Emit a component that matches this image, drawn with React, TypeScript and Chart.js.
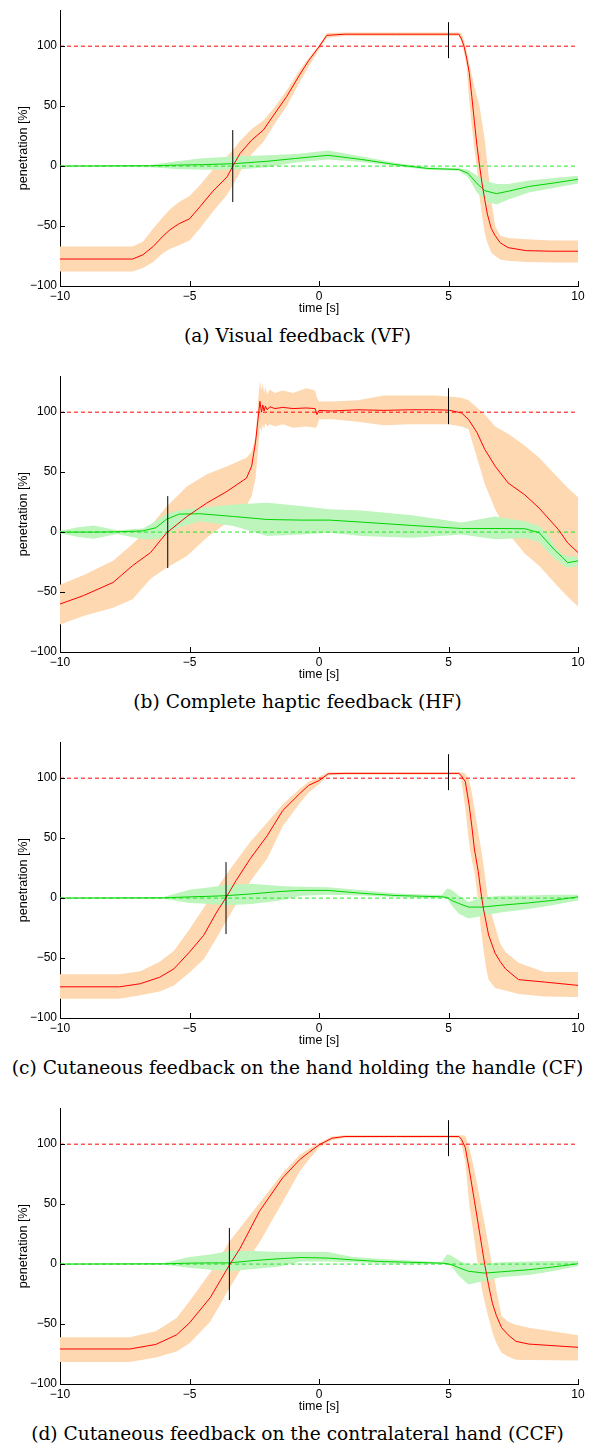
import React, { useEffect, useRef } from 'react';
import { Chart, registerables } from 'chart.js';

Chart.register(...registerables);

// ---------- axes ----------
const X_TICKS = [-10, -5, 0, 5, 10];
const Y_TICKS = [-100, -50, 0, 50, 100];
const X_MIN = -10;
const X_MAX = 10;
const Y_MIN = -100;
const Y_MAX = 130;
const TARGET_RED = 100;
const TARGET_GREEN = 0;
const X_TITLE = 'time [s]';
const Y_TITLE = 'penetration [%]';

const CAPTIONS = [
  '(a) Visual feedback (VF)',
  '(b) Complete haptic feedback (HF)',
  '(c) Cutaneous feedback on the hand holding the handle (CF)',
  '(d) Cutaneous feedback on the contralateral hand (CCF)',
];

// marker lines: crossing time per panel, and the second marker at t = 5
const CROSS_T = [-3.33, -5.84, -3.59, -3.46];
const CROSS_LO = -30;
const CROSS_HI = 30;
const END_T = 5;
const END_LO = 90;
const END_HI = 120;

// ---------- panel (a) VF ----------
const aRedT = [-10, -7.2, -6.8, -6.4, -6.05, -5.75, -5.4, -5, -4.6, -4.1, -3.55, -3.3, -3.05, -2.6, -2.15, -1.75, -1.25, -0.75, -0.4, 0, 0.3, 1, 3, 5, 5.4, 5.5, 5.6, 5.7, 5.8, 5.9, 6.0, 6.1, 6.2, 6.3, 6.4, 6.5, 6.65, 6.8, 7.0, 7.3, 8.0, 9.0, 10];
const aRedMean = [-77.5, -77.5, -74, -67, -59, -53, -48, -44, -34, -21, -9, 1, 10.5, 21.7, 30, 42.5, 58, 76, 88, 99.5, 109, 110, 110, 110, 110, 106, 100, 90, 78, 58, 37, 17, 0, -15, -28, -40, -52, -58, -64, -68, -70.5, -71, -71];
const aRedUp = [-67, -67, -63, -52, -43, -36, -30, -25, -16, -3, 8, 14, 21, 31, 38, 48, 63, 80, 90, 101, 111, 111.5, 111.5, 111.5, 111.5, 111, 105, 96, 86, 76, 66, 58, 50, 36, 22, 2, -28, -50, -58, -60, -61, -62, -62];
const aRedLo = [-88, -88, -85, -80, -73, -69, -66, -62, -52, -38, -24, -15, -5, 10, 20, 34, 50, 70, 83, 97, 107, 108.5, 108.5, 108.5, 108.5, 104, 95, 83, 55, 33, 14, -2, -26, -42, -56, -64, -72, -75, -78, -79, -80, -80.5, -80.5];
const aGreenT = [-10, -6.5, -5.5, -4.5, -3.3, -2, -0.9, 0.35, 1.65, 2.9, 4.2, 5.4, 5.75, 6.1, 6.4, 6.85, 7.3, 8.1, 9.1, 10];
const aGreenMean = [0, 0.3, 0.8, 1.2, 2, 4, 6.4, 9, 5.5, 1.4, -2, -2.8, -6, -14.5, -20.5, -23, -21, -17, -14, -11];
const aGreenUp = [0.2, 1, 4, 6.5, 8, 9, 10, 13, 8, 3, -1, -1.8, -3, -8, -12, -15, -15, -12, -10, -8];
const aGreenLo = [-0.2, -1, -2.5, -3, -3, -1, 3, 5.5, 3.5, 0, -3, -3.8, -9, -22, -29, -32, -28, -22, -18, -14.5];

// ---------- panel (b) HF ----------
const bRedT = [-10, -9.1, -7.95, -7.2, -6.5, -5.9, -5.1, -4.35, -3.55, -2.8, -2.6, -2.45, -2.35, -2.28, -2.22, -2.17, -2.12, -2.07, -2.0, -1.9, -1.7, -1.4, -1.0, -0.5, -0.15, -0.08, 0, 0.5, 1.5, 2.5, 3.5, 4.5, 5, 5.5, 5.77, 6.1, 6.4, 6.8, 7.3, 7.95, 8.5, 9.25, 9.6, 10];
const bRedMean = [-60, -53, -42, -28, -17, -1, 13, 24, 34, 45, 55, 75, 95, 109, 100, 106, 101, 105, 102, 104.5, 103, 104, 103, 103.5, 103, 98, 101.5, 101, 102, 101.5, 102, 102, 101.7, 99.4, 94, 83, 69, 55, 41, 31, 20, 2, -9, -17];
const bRedUp = [-44, -36, -24, -10, 5, 21, 38, 48, 55, 62, 67, 80, 110, 126, 118, 124, 116, 121, 115, 119, 116, 118, 116, 120, 118, 112, 109, 109, 110, 114, 114, 114, 113, 112, 110, 104, 98, 88, 82, 72, 62, 45, 37, 29];
const bRedLo = [-77, -70, -63, -56, -39, -30, -20, -5, 8, 22, 30, 45, 70, 88, 84, 90, 86, 91, 88, 90, 88, 90, 87, 88, 87, 88, 94, 94, 92, 89, 90, 90, 90, 88, 86, 62, 40, 19, -1, -18, -28, -46, -54, -62];
const bGreenT = [-10, -9.3, -8.7, -7.8, -6.8, -6.3, -5.9, -5.4, -4.6, -3.3, -2.0, -0.7, 0.4, 1.65, 3.6, 5.5, 6.8, 7.95, 8.5, 8.85, 9.1, 9.4, 9.6, 10];
const bGreenMean = [0, 0, 0, 0.2, 1, 3.6, 10.5, 15, 15.3, 13, 10.5, 10, 10, 8.3, 5.5, 3, 3, 2.8, -0.5, -9, -15, -21, -25.5, -24];
const bGreenUp = [1, 4, 5.5, 1.5, 3, 9, 15, 18, 20, 23, 24.4, 21.7, 19, 18, 14, 8, 13, 9, 5, -2, -12, -19, -20, -21];
const bGreenLo = [-1, -4, -5.5, -1.5, -6, -6, -2, 4, 9, 5, -3.3, -2, -0.5, -3.3, -4.7, -2, -6, -5, -8, -17, -22, -27, -30, -28];

// ---------- panel (c) CF ----------
const cRedT = [-10, -7.7, -6.9, -6.15, -5.6, -5.0, -4.45, -3.95, -3.6, -3.2, -2.65, -2.0, -1.4, -0.75, -0.4, 0, 0.35, 1, 3, 5, 5.4, 5.5, 5.65, 5.8, 5.9, 6.0, 6.15, 6.25, 6.35, 6.45, 6.55, 6.8, 7.0, 7.2, 7.7, 8.7, 10];
const cRedMean = [-74, -74, -71.4, -66, -59, -45, -31, -11.7, 0, 14.7, 33, 52, 73, 87, 94, 98, 103.6, 104, 104, 104, 104, 102, 97, 77, 60, 41, 22, 5, -9, -20, -31, -46, -53, -59, -68, -70, -72.8];
const cRedUp = [-63.6, -63.6, -61, -53, -44, -26, -8, 8, 19, 31, 47, 63, 78, 91, 97, 101, 105, 105, 105, 105, 105, 105, 104, 98, 88, 75, 55, 42, 28, 12, -5, -24, -38, -45, -54, -61.7, -61.7];
const cRedLo = [-84, -84, -81, -78, -73, -62, -51, -33, -20, -5, 14, 33, 60, 79, 88, 95, 102.5, 103, 103, 103, 103, 98, 75, 45, 32, 22, -3, -25, -43, -58, -68, -75, -76, -77, -80, -82, -82.5];
const cGreenT = [-10, -6.0, -5.0, -4.2, -3.6, -2.6, -1.5, -0.7, 0.35, 1.65, 2.9, 4.0, 4.74, 4.95, 5.12, 5.4, 5.77, 6.3, 7.0, 8.1, 9.0, 10];
const cGreenMean = [0, 0.2, 1, 1.5, 2, 3.5, 5.5, 6.4, 6.4, 4, 2.2, 1.5, 1.1, 0.5, -2, -4.5, -7.5, -7.5, -6, -4, -2, 1];
const cGreenUp = [0.2, 1, 7, 9, 11, 12, 10, 9.5, 9, 6.5, 4, 3, 2.5, 8, 7, 2, -3.3, 0.5, 2, 2.2, 2.8, 2.8];
const cGreenLo = [-0.2, -0.5, -4, -5, -6, -5, -2, 2, 2.8, 2.2, 1, 0, 0, -0.5, -6, -13, -17, -15, -12, -9, -6, -2];

// ---------- panel (d) CCF ----------
const dRedT = [-10, -7.3, -6.3, -5.5, -5.0, -4.2, -3.45, -3.05, -2.3, -1.4, -0.75, -0.4, 0, 0.5, 1, 3, 5, 5.4, 5.5, 5.65, 5.8, 5.9, 6.0, 6.15, 6.3, 6.4, 6.55, 6.7, 6.85, 7.05, 7.3, 7.6, 8.1, 10];
const dRedMean = [-70.8, -70.8, -67, -59, -49, -28, -0.5, 13, 44, 72, 87, 93, 99.4, 105, 106.4, 106.4, 106.4, 106.4, 104, 97, 79, 66, 53, 33, 13, -0.5, -18, -33, -43, -53, -59, -64.4, -66.7, -69.4];
const dRedUp = [-61, -61, -56, -45, -31, -7, 19, 30, 51, 76, 91, 96, 101, 106.5, 107.5, 107.5, 107.5, 107.5, 107.5, 107, 97, 88, 78, 62, 44, 33, 15, -3, -22, -43, -48, -50.5, -53, -59.4];
const dRedLo = [-81.7, -81.7, -78, -73, -66, -48, -20, -5.5, 18, 52, 77, 87, 97, 103.5, 105.3, 105.3, 105.3, 105, 100, 85, 50, 35, 20, -3, -22, -32, -45, -57, -66, -74, -77, -79.7, -80, -80.3];
const dGreenT = [-10, -6.0, -5.0, -4.2, -3.45, -2.5, -1.5, -0.7, 0.35, 1.3, 2.3, 3.5, 4.74, 4.95, 5.12, 5.4, 5.77, 6.4, 7.0, 8.1, 9.0, 10];
const dGreenMean = [0, 0.2, 0.8, 1, 1, 3, 4.5, 5.5, 5, 3.5, 2.2, 1.5, 0.8, 0.3, -0.5, -3, -6, -7.5, -6.5, -4.7, -2.5, 0.3];
const dGreenUp = [0.2, 1, 6, 8, 11, 11, 10, 10, 10, 6, 4.5, 3, 1.5, 8.3, 7, 3, -0.5, 0, 1.5, 2.2, 2.5, 2.5];
const dGreenLo = [-0.2, -0.5, -3, -4.7, -6, -4, -2, 2.2, 2.2, 1.5, 0.8, 0, 0, -0.5, -2, -10, -17, -14, -11, -9, -6, -1.5];

// ---------- styles ----------
const RED = '#ff0000';
const GREEN = '#00d400';
const GREEN_DASH = '#22e622';
const ORANGE_BAND = '#fdd8b0';
const GREEN_BAND = '#bdf5bd';
const PANEL_H = 366;
const CANVAS_W = 595;
const CANVAS_H = 316;

type PanelData = {
  redT: number[]; redMean: number[]; redUp: number[]; redLo: number[];
  greenT: number[]; greenMean: number[]; greenUp: number[]; greenLo: number[];
  cross: number;
};

const PANELS: PanelData[] = [
  { redT: aRedT, redMean: aRedMean, redUp: aRedUp, redLo: aRedLo, greenT: aGreenT, greenMean: aGreenMean, greenUp: aGreenUp, greenLo: aGreenLo, cross: CROSS_T[0] },
  { redT: bRedT, redMean: bRedMean, redUp: bRedUp, redLo: bRedLo, greenT: bGreenT, greenMean: bGreenMean, greenUp: bGreenUp, greenLo: bGreenLo, cross: CROSS_T[1] },
  { redT: cRedT, redMean: cRedMean, redUp: cRedUp, redLo: cRedLo, greenT: cGreenT, greenMean: cGreenMean, greenUp: cGreenUp, greenLo: cGreenLo, cross: CROSS_T[2] },
  { redT: dRedT, redMean: dRedMean, redUp: dRedUp, redLo: dRedLo, greenT: dGreenT, greenMean: dGreenMean, greenUp: dGreenUp, greenLo: dGreenLo, cross: CROSS_T[3] },
];

const pts = (t: number[], v: number[]) => t.map((x, i) => ({ x, y: v[i] }));
const band = (t: number[], up: number[], lo: number[]) => [
  ...pts(t, up),
  ...pts(t, lo).reverse(),
];

const fmt = (v: number | string) => {
  const n = Number(v);
  return n < 0 ? '\u2212' + String(Math.abs(n)) : String(n);
};

const innerTicks = {
  id: 'innerTicks',
  afterDraw(chart: any) {
    const { ctx, chartArea, scales } = chart;
    const { left, bottom } = chartArea;
    ctx.save();
    ctx.strokeStyle = '#000';
    ctx.lineWidth = 1;
    ctx.beginPath();
    X_TICKS.forEach((v) => {
      const px = Math.round(scales.x.getPixelForValue(v)) + 0.5;
      ctx.moveTo(px, bottom);
      ctx.lineTo(px, bottom - 5);
    });
    Y_TICKS.forEach((v) => {
      const py = Math.round(scales.y.getPixelForValue(v)) + 0.5;
      ctx.moveTo(left, py);
      ctx.lineTo(left + 5, py);
    });
    ctx.stroke();
    ctx.restore();
  },
};

const TICK_FONT = { family: 'Liberation Sans', size: 12 };
const TITLE_FONT = { family: 'Liberation Sans', size: 12.5 };

function PanelChart({ p }: { p: PanelData }) {
  const ref = useRef<HTMLCanvasElement>(null);
  useEffect(() => {
    if (!ref.current) return;
    const line = (data: any[], color: string, order: number, dash: number[] = []) => ({
      data,
      borderColor: color,
      borderWidth: 1,
      borderDash: dash,
      pointRadius: 0,
      fill: false,
      tension: 0,
      order,
    });
    const chart = new Chart(ref.current, {
      type: 'line',
      data: {
        datasets: [
          line([{ x: p.cross, y: CROSS_LO }, { x: p.cross, y: CROSS_HI }], '#000', 0),
          line([{ x: END_T, y: END_LO }, { x: END_T, y: END_HI }], '#000', 0),
          line(pts(p.redT, p.redMean), RED, 1),
          line(pts(p.greenT, p.greenMean), GREEN, 2),
          line([{ x: X_MIN, y: TARGET_RED }, { x: X_MAX, y: TARGET_RED }], RED, 3, [4, 3]),
          line([{ x: X_MIN, y: TARGET_GREEN }, { x: X_MAX, y: TARGET_GREEN }], GREEN_DASH, 3, [4, 3]),
          {
            data: band(p.greenT, p.greenUp, p.greenLo),
            borderWidth: 0,
            borderColor: 'rgba(0,0,0,0)',
            backgroundColor: GREEN_BAND,
            pointRadius: 0,
            fill: 'shape',
            tension: 0,
            order: 4,
          },
          {
            data: band(p.redT, p.redUp, p.redLo),
            borderWidth: 0,
            borderColor: 'rgba(0,0,0,0)',
            backgroundColor: ORANGE_BAND,
            pointRadius: 0,
            fill: 'shape',
            tension: 0,
            order: 5,
          },
        ] as any,
      },
      options: {
        animation: false,
        responsive: false,
        events: [],
        layout: { padding: { top: 10, right: 17, left: 0, bottom: 0 } },
        plugins: { legend: { display: false }, tooltip: { enabled: false } },
        scales: {
          x: {
            type: 'linear',
            min: X_MIN,
            max: X_MAX,
            afterBuildTicks: (s: any) => {
              s.ticks = X_TICKS.map((value) => ({ value }));
            },
            afterFit: (s: any) => {
              s.height = 30;
            },
            grid: { display: false, drawTicks: false },
            border: { display: true, color: '#000', width: 1 },
            ticks: { padding: 3.5, font: TICK_FONT, color: '#000', callback: fmt, maxRotation: 0, autoSkip: false },
            title: { display: true, text: X_TITLE, font: TITLE_FONT, color: '#000', padding: { top: 0, bottom: 0 } },
          },
          y: {
            type: 'linear',
            min: Y_MIN,
            max: Y_MAX,
            afterBuildTicks: (s: any) => {
              s.ticks = Y_TICKS.map((value) => ({ value }));
            },
            afterFit: (s: any) => {
              s.width = 60;
            },
            grid: { display: false, drawTicks: false },
            border: { display: true, color: '#000', width: 1 },
            ticks: { padding: 3, font: TICK_FONT, color: '#000', callback: fmt, autoSkip: false },
            title: { display: true, text: Y_TITLE, font: TITLE_FONT, color: '#000', padding: { top: 16, bottom: 0 } },
          },
        },
      } as any,
      plugins: [innerTicks],
    });
    return () => chart.destroy();
  }, [p]);
  return (
    <canvas
      ref={ref}
      width={CANVAS_W}
      height={CANVAS_H}
      style={{ display: 'block', width: CANVAS_W, height: CANVAS_H }}
    />
  );
}

export default function App() {
  return (
    <div style={{ position: 'absolute', left: 0, top: 0, width: 595, height: 1446, background: '#fff' }}>
      {PANELS.map((p, i) => (
        <div key={i} style={{ position: 'absolute', left: 0, top: i * PANEL_H, width: 595, height: PANEL_H }}>
          <PanelChart p={p} />
          <div
            style={{
              position: 'absolute',
              left: 0,
              top: 326,
              width: 595,
              textAlign: 'center',
              fontFamily: '"DejaVu Serif", serif',
              fontSize: 18.6,
              lineHeight: '20px',
              color: '#000',
              whiteSpace: 'nowrap',
            }}
          >
            {CAPTIONS[i]}
          </div>
        </div>
      ))}
    </div>
  );
}
